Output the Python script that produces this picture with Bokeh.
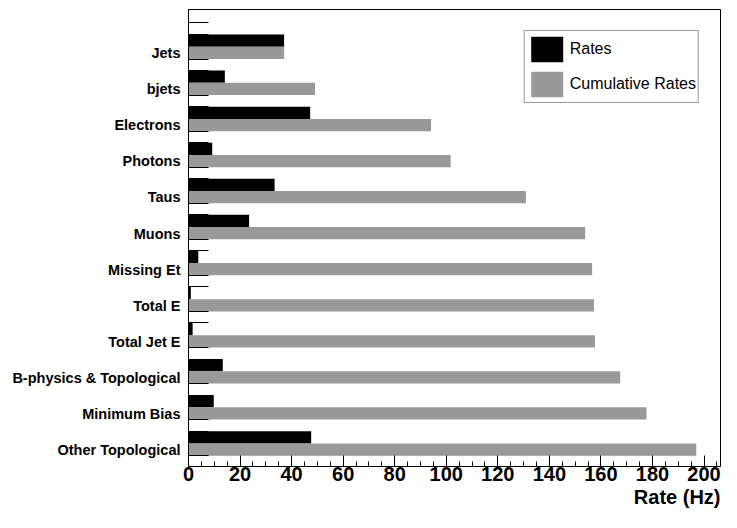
from bokeh.plotting import figure
from bokeh.models import Range1d, FixedTicker, SingleIntervalTicker, Legend, LegendItem, Title, ColumnDataSource
from bokeh.embed import file_html
from bokeh.resources import INLINE

categories = ["Jets", "bjets", "Electrons", "Photons", "Taus", "Muons", "Missing Et",
              "Total E", "Total Jet E", "B-physics & Topological", "Minimum Bias",
              "Other Topological"]
rates = [37.1, 14.1, 47.2, 9.2, 33.4, 23.5, 3.8, 0.9, 1.6, 13.3, 9.8, 47.6]
cumulative = [37.1, 49.1, 94.1, 101.7, 130.9, 153.9, 156.6, 157.3, 157.7, 167.5, 177.7, 197.0]

n = len(categories)
pos = [n - 1 - k for k in range(n)]
bar_h = 0.34
X0, X1 = 0, 206.4
Y0, Y1 = -0.641, 12.034

p = figure(width=721, height=512, output_backend="svg", toolbar_location=None,
           x_range=Range1d(X0, X1), y_range=Range1d(Y0, Y1),
           min_border_left=188, min_border_right=1, min_border_top=9, min_border_bottom=46)
p.outline_line_color = "black"
p.outline_line_width = 1
p.grid.visible = False
p.background_fill_color = "white"

src = ColumnDataSource(dict(
    y_rate=[v + bar_h / 2 for v in pos],
    y_cum=[v - bar_h / 2 for v in pos],
    rates=rates, cumulative=cumulative))

r1 = p.hbar(y="y_rate", right="rates", left=0, height=bar_h, source=src,
            fill_color="black", line_color=None)
r2 = p.hbar(y="y_cum", right="cumulative", left=0, height=bar_h, source=src,
            fill_color="#999999", line_color=None)

legend = Legend(items=[LegendItem(label="Rates", renderers=[r1]),
                       LegendItem(label="Cumulative Rates", renderers=[r2])],
                location="top_right", padding=2, spacing=3, margin=21,
                glyph_width=40, glyph_height=32, label_standoff=3,
                label_text_font="Liberation Sans", label_text_font_size="16px",
                label_text_color="black", label_height=32,
                border_line_color="#333333", border_line_width=1,
                background_fill_color="white", background_fill_alpha=1.0)
p.add_layout(legend, "center")

# x axis
xa = p.xaxis[0]
xa.ticker = SingleIntervalTicker(interval=20, num_minor_ticks=4)
xa.major_tick_in = 11
xa.major_tick_out = 0
xa.minor_tick_in = 5
xa.minor_tick_out = 0
xa.major_tick_line_color = "black"
xa.minor_tick_line_color = "black"
xa.axis_line_color = "black"
xa.major_label_text_font = "Liberation Sans"
xa.major_label_text_font_style = "bold"
xa.major_label_text_font_size = "20px"
xa.major_label_text_color = "black"
xa.major_label_standoff = 0

p.add_layout(Title(text="Rate (Hz)", align="right", text_font="Liberation Sans",
                   text_font_style="bold", text_font_size="20px", text_color="black",
                   standoff=0, offset=0), "below")

# y axis
label_pos = [v - 0.18 for v in pos]
edge_ticks = sorted([v + bar_h for v in range(n + 1)] + [v - bar_h for v in range(n + 1)])
edge_ticks = [t for t in edge_ticks if Y0 < t < Y1]
ya = p.yaxis[0]
ya.ticker = FixedTicker(ticks=label_pos, minor_ticks=edge_ticks)
ya.major_label_overrides = {lp: c for lp, c in zip(label_pos, categories)}
ya.major_tick_line_color = None
ya.major_tick_in = 0
ya.major_tick_out = 0
ya.minor_tick_in = 20
ya.minor_tick_out = 0
ya.minor_tick_line_color = "black"
ya.axis_line_color = "black"
ya.major_label_text_font = "Liberation Sans"
ya.major_label_text_font_style = "bold"
ya.major_label_text_font_size = "14.5px"
ya.major_label_text_color = "black"
ya.major_label_standoff = 8

open("out.html", "w").write(file_html(p, INLINE))
